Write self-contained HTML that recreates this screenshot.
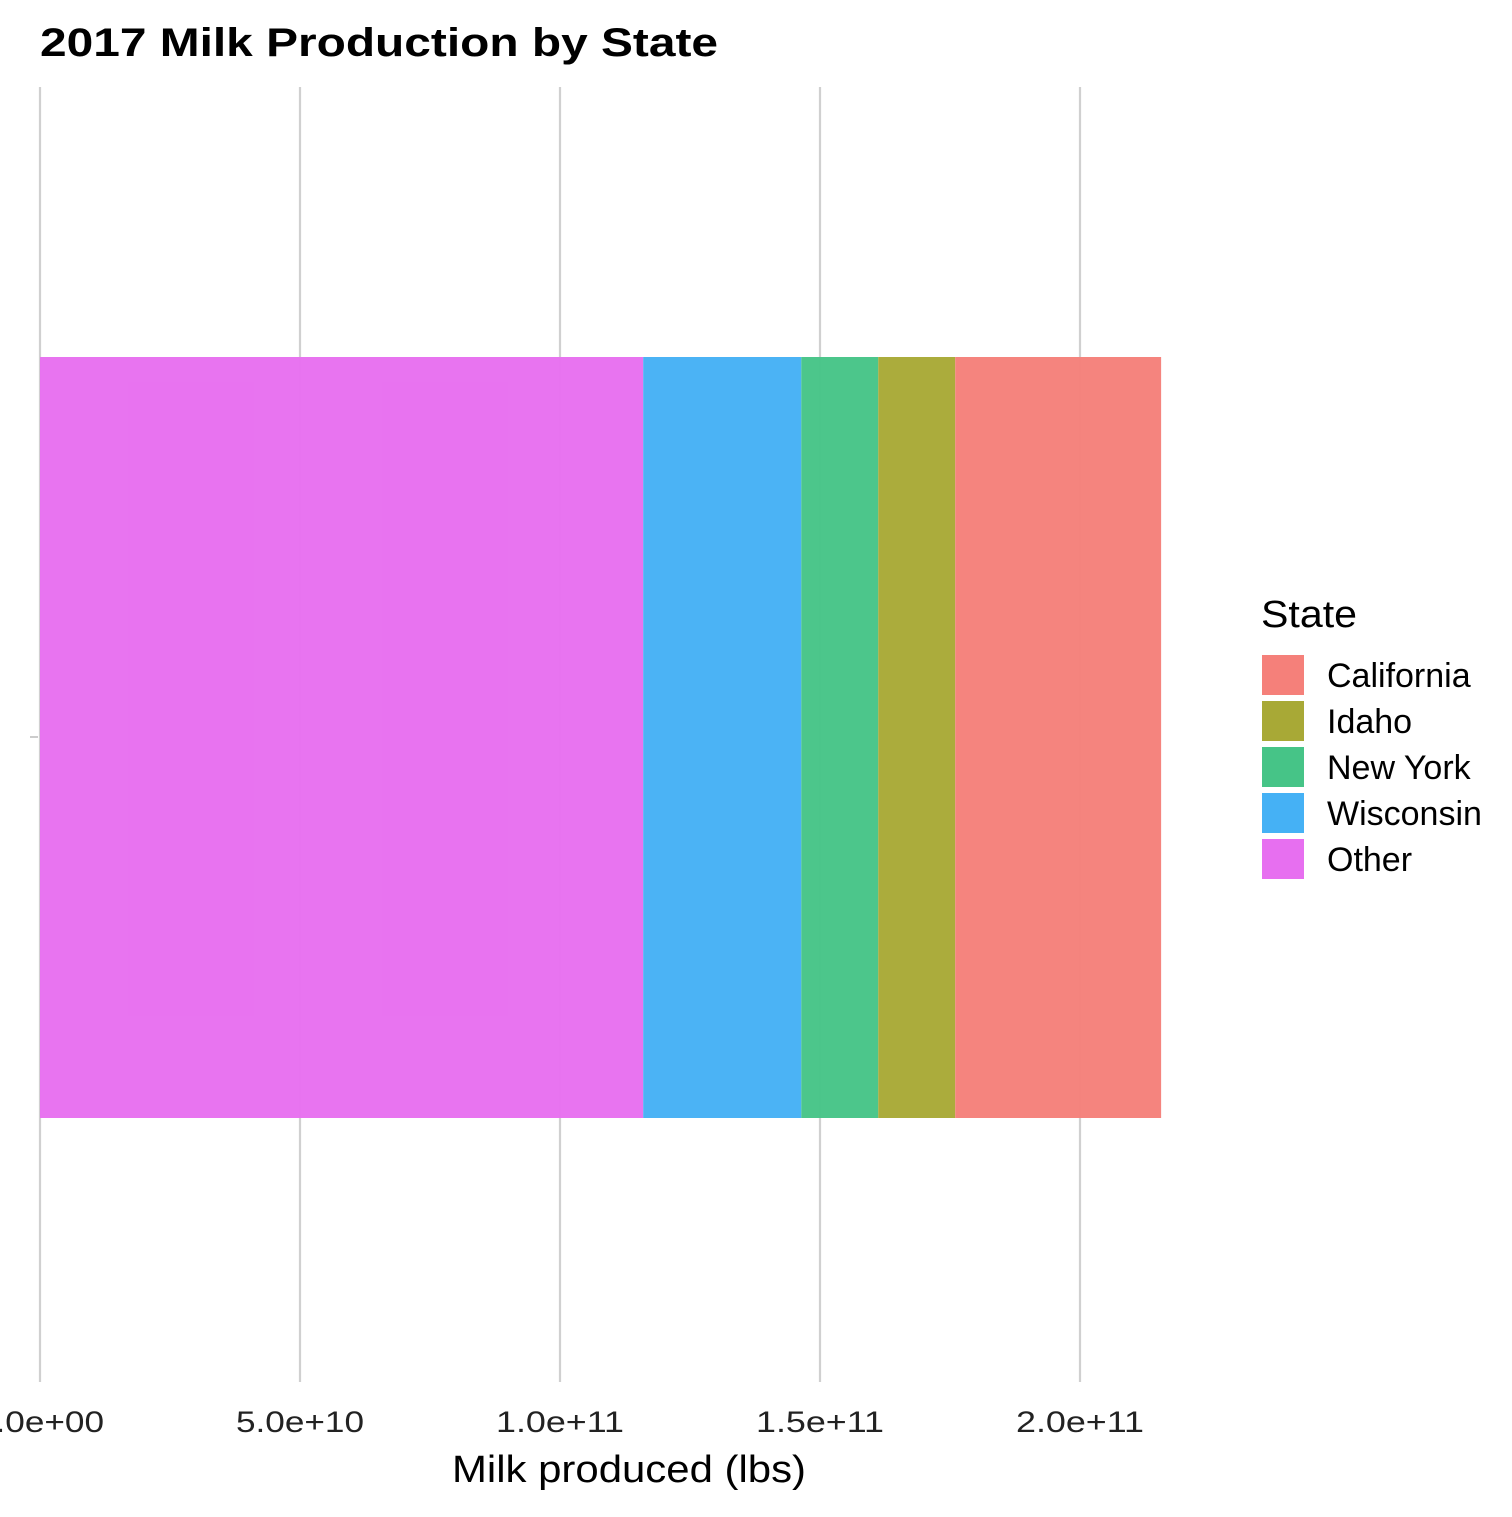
<!DOCTYPE html>
<html><head><meta charset="utf-8"><style>
body{margin:0;background:#fff;}
svg text{font-family:"Liberation Sans",Arial,sans-serif;}
</style></head><body>
<svg id="chart" width="1512" height="1512" viewBox="0 0 1512 1512">
<text x="40" y="56" font-size="40" font-weight="bold" fill="#000" textLength="678" lengthAdjust="spacingAndGlyphs">2017 Milk Production by State</text>
<g id="grid"></g>
<g id="bars"></g>
<line x1="30" y1="737" x2="38" y2="737" stroke="#ccc" stroke-width="2"/>
<g id="ticks"></g>
<text x="629" y="1482" font-size="38" text-anchor="middle" fill="#000" textLength="354" lengthAdjust="spacingAndGlyphs">Milk produced (lbs)</text>
<text x="1261" y="627" font-size="38" fill="#000" textLength="96" lengthAdjust="spacingAndGlyphs">State</text>
<g id="legend"></g>
</svg>
<script>
const states = ["California","Idaho","New York","Wisconsin","Other"];
const values = [39.6e9, 14.8e9, 14.8e9, 30.4e9, 116e9];
const colors = ["#F5807A","#A8A936","#46C487","#45B1F5","#E76FF0"];
const tickValues = [0, 5e10, 1e11, 1.5e11, 2e11];
const tickLabels = ["0.0e+00","5.0e+10","1.0e+11","1.5e+11","2.0e+11"];
const NS="http://www.w3.org/2000/svg";
const x = v => 40 + v/5e10*260;
function mk(tag, attrs, parent){const e=document.createElementNS(NS,tag);for(const k in attrs)e.setAttribute(k,attrs[k]);parent.appendChild(e);return e;}
const grid=document.getElementById('grid'), ticks=document.getElementById('ticks'), bars=document.getElementById('bars'), legend=document.getElementById('legend');
tickValues.forEach((t,i)=>{
  const l=mk('line',{x1:x(t),x2:x(t),y1:87,y2:1382,stroke:'#d0d0d0','stroke-width':2.2},grid);
  
  
  const tx=mk('text',{x:x(t),y:1432,'font-size':30,'text-anchor':'middle',fill:'#222',textLength:128,lengthAdjust:'spacingAndGlyphs'},ticks);
  tx.textContent=tickLabels[i];
  
  
});
let cum=0;
for(let i=states.length-1;i>=0;i--){
  const r=mk('rect',{x:x(cum),y:357,width:x(cum+values[i])-x(cum),height:761,fill:colors[i],'fill-opacity':0.97},bars);
  
  
  cum+=values[i];
}
states.forEach((s,i)=>{
  const y=655+i*46;
  const r=mk('rect',{x:1262,y:y,width:42,height:40,fill:colors[i]},legend);
  
  
  const t=mk('text',{x:1327,y:y+32,'font-size':34,fill:'#000'},legend);
  t.textContent=s;
  
  
});
</script>
</body></html>
